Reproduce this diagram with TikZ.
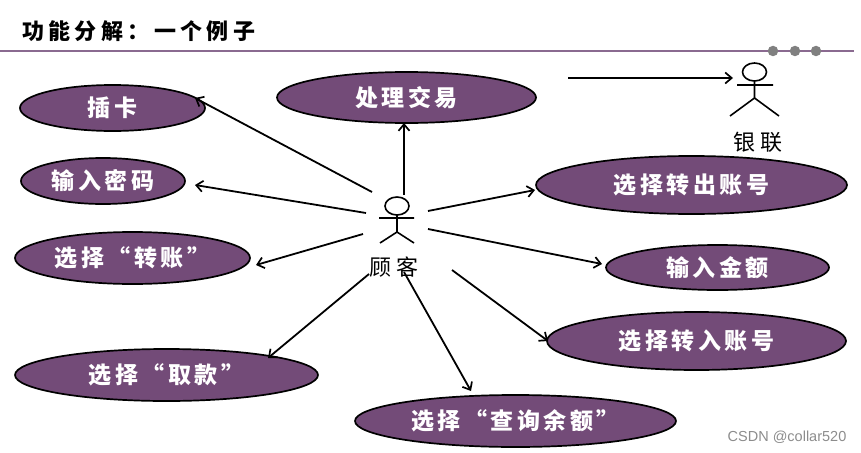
\documentclass[tikz,border=0pt]{standalone}
\usepackage{fontspec}
\newfontfamily\cjk[LetterSpace=15]{Noto Sans CJK SC}
\newfontfamily\cjkwide[LetterSpace=20]{Noto Sans CJK SC}
\newfontfamily\wmfont{Liberation Sans}
\usetikzlibrary{shapes.geometric,arrows.meta}
\definecolor{plum}{HTML}{734B78}
\definecolor{rulec}{HTML}{8A6A90}
\tikzset{
  usecase/.style={ellipse,draw=black,line width=1.7pt,fill=plum,text=white,inner sep=0pt,outer sep=0pt,
    font=\cjk\bfseries\fontsize{23}{23}\selectfont},
  flow/.style={draw=black,line width=1.8pt,-{Straight Barb[length=6.5pt,width=11pt,line width=1.7pt]}},
  stick/.style={draw=black,line width=1.6pt},
  actorlabel/.style={font=\cjkwide\fontsize{22}{22}\selectfont,text=black,inner sep=0pt},
  dot/.style={circle,fill=black!50,minimum size=10.5pt,inner sep=0pt}
}
\begin{document}
\begin{tikzpicture}[x=1pt,y=-1pt]
\useasboundingbox (0,0) rectangle (861,452);
% title
\node[inner sep=0pt,anchor=west,font=\cjkwide\bfseries\fontsize{22}{22}\selectfont] (title) at (22,31) {功能分解：一个例子};
\coordinate (ruleL) at (0,51);
\coordinate (ruleR) at (854,51);
\draw[rulec,line width=1.8pt] (ruleL) -- (ruleR);
\node[dot] (d1) at (773,51) {};
\node[dot] (d2) at (795,51) {};
\node[dot] (d3) at (816,51) {};
% use cases
\node[usecase,minimum width=185pt,minimum height=46pt] (card) at (112.5,108) {插卡};
\node[usecase,minimum width=259pt,minimum height=51pt] (deal) at (406.5,97.5) {处理交易};
\node[usecase,minimum width=164pt,minimum height=46pt] (pwd) at (103,181) {输入密码};
\node[usecase,minimum width=235pt,minimum height=52pt] (trans) at (132.5,258) {选择“转账”};
\node[usecase,minimum width=303pt,minimum height=52pt] (draw) at (166.5,375) {选择“取款”};
\node[usecase,minimum width=321pt,minimum height=52pt] (query) at (515.5,421) {选择“查询余额”};
\node[usecase,minimum width=311pt,minimum height=58pt] (outacc) at (691.5,185) {选择转出账号};
\node[usecase,minimum width=223pt,minimum height=45pt] (amount) at (717.5,267.5) {输入金额};
\node[usecase,minimum width=299pt,minimum height=58pt] (inacc) at (696.5,341) {选择转入账号};
% customer actor
\node[ellipse,stick,minimum width=24pt,minimum height=18pt,inner sep=0pt,outer sep=0pt] (guhead) at (397,206) {};
\coordinate (guarmL) at (379,218);
\coordinate (guarmR) at (414,218);
\coordinate (guhip) at (397,232);
\coordinate (gulegL) at (380,243);
\coordinate (gulegR) at (414,243);
\draw[stick] (guhead.south) -- (guhip) (guarmL) -- (guarmR) (gulegL) -- (guhip) -- (gulegR);
\node[actorlabel] (gulabel) at (394,267) {顾客};
% bank actor
\node[ellipse,stick,minimum width=24pt,minimum height=18pt,inner sep=0pt,outer sep=0pt] (yinhead) at (754.5,72) {};
\coordinate (yinarmL) at (737,85);
\coordinate (yinarmR) at (773,85);
\coordinate (yinhip) at (754.5,98);
\coordinate (yinlegL) at (730,116);
\coordinate (yinlegR) at (779,116);
\draw[stick] (yinhead.south) -- (yinhip) (yinarmL) -- (yinarmR) (yinlegL) -- (yinhip) -- (yinlegR);
\node[actorlabel] (yinlabel) at (758,142) {银联};
% connector ends
\coordinate (s1) at (372,192); \coordinate (t1) at (195,98);
\coordinate (s2) at (366,213); \coordinate (t2) at (195,185);
\coordinate (s3) at (363,234); \coordinate (t3) at (256,265);
\coordinate (s4) at (369,274); \coordinate (t4) at (268,358);
\coordinate (s5) at (404,272); \coordinate (t5) at (471,391);
\coordinate (s6) at (452,270); \coordinate (t6) at (548,341);
\coordinate (s7) at (428,229); \coordinate (t7) at (602,264);
\coordinate (s8) at (428,211); \coordinate (t8) at (535,190);
\coordinate (s9) at (404,195); \coordinate (t9) at (404,123);
\coordinate (s10) at (568,78); \coordinate (t10) at (733,78);
\draw[flow] (s1) -- (t1);
\draw[flow] (s2) -- (t2);
\draw[flow] (s3) -- (t3);
\draw[flow] (s4) -- (t4);
\draw[flow] (s5) -- (t5);
\draw[flow] (s6) -- (t6);
\draw[flow] (s7) -- (t7);
\draw[flow] (s8) -- (t8);
\draw[flow] (s9) -- (t9);
\draw[flow] (s10) -- (t10);
% watermark
\node[inner sep=0pt,text=black!45,font=\wmfont\fontsize{14.5}{14.5}\selectfont] (wm) at (787,437) {CSDN @collar520};
\end{tikzpicture}
\end{document}
